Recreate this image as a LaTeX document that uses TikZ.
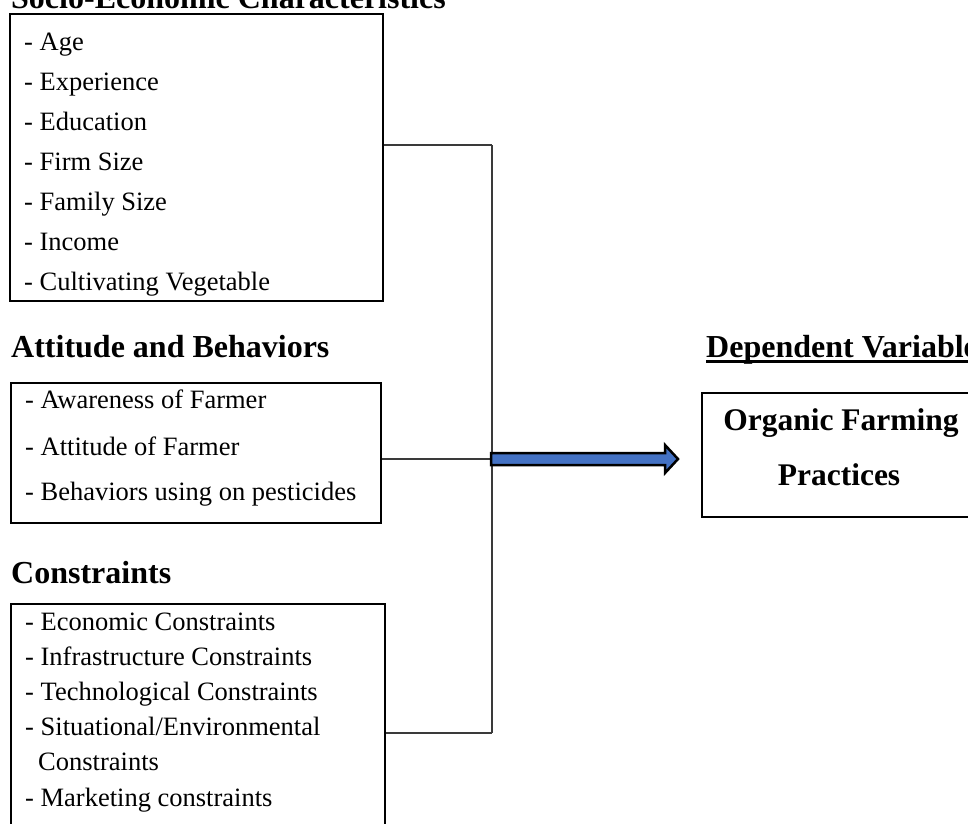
\documentclass[tikz,border=0pt]{standalone}
\usepackage{fontspec}
\setmainfont{Liberation Serif}
\usepackage{xcolor}
\usepackage{tikz}
\usetikzlibrary{calc}

\definecolor{arrowblue}{HTML}{4472C4}
\definecolor{linkgray}{HTML}{3A3A3A}

\begin{document}
\begin{tikzpicture}[x=1pt,y=-1pt,
  listbox/.style={draw,line width=2pt,inner sep=0pt},
  item/.style={anchor=base west,inner sep=0pt,font=\fontsize{26.5}{32}\selectfont},
  heading/.style={anchor=base west,inner sep=0pt,font=\bfseries\fontsize{32}{38}\selectfont},
  bigtext/.style={anchor=base,inner sep=0pt,font=\bfseries\fontsize{31.5}{38}\selectfont},
  link/.style={draw=linkgray,line width=1.3pt},
  fatarrow/.style={fill=arrowblue,draw=black,line width=2.5pt,line join=miter}]
\useasboundingbox (0,0) rectangle (968,823);
\clip (0,0) rectangle (968,823);
% --- socio-economic block ---
\node[heading] (socio) at (11,8) {Socio-Economic Characteristics};
\node[listbox,minimum width=373pt,minimum height=287pt] (socbox) at (196.5,157.5) {};
\node[item] (age) at (24,50) {- Age};
\node[item] (exper) at (24,90) {- Experience};
\node[item] (educ) at (24,130) {- Education};
\node[item] (firm) at (24,170) {- Firm Size};
\node[item] (family) at (24,210) {- Family Size};
\node[item] (income) at (24,250) {- Income};
\node[item] (vege) at (24,290) {- Cultivating Vegetable};
% --- attitude block ---
\node[heading] (attit) at (11,357) {Attitude and Behaviors};
\node[listbox,minimum width=370pt,minimum height=140pt] (attbox) at (196,453) {};
\node[item] (aware) at (25,408) {- Awareness of Farmer};
\node[item] (attfarm) at (25,455) {- Attitude of Farmer};
\node[item] (behav) at (25,500) {- Behaviors using on pesticides};
% --- constraints block ---
\node[heading] (constr) at (11,583) {Constraints};
\node[listbox,minimum width=374pt,minimum height=236pt] (conbox) at (198,722) {};
\node[item] (econ) at (25,630) {- Economic Constraints};
\node[item] (infra) at (25,665) {- Infrastructure Constraints};
\node[item] (techno) at (25,700) {- Technological Constraints};
\node[item] (situ) at (25,735) {- Situational/Environmental};
\node[item] (situb) at (38,770) {Constraints};
\node[item] (market) at (25,806) {- Marketing constraints};
% --- dependent variable ---
\node[heading] (dep) at (706,357) {Dependent Variable};
\draw[line width=2.5pt] ([yshift=-4.5pt]dep.base west) -- ([yshift=-4.5pt]dep.base east);
\node[listbox,minimum width=276pt,minimum height=124pt] (ofp) at (840,455) {};
\node[bigtext] (ofpa) at (841,430) {Organic Farming};
\node[bigtext] (ofpb) at (839,485) {Practices};
% --- links into the arrow ---
\coordinate (j1) at (492,145);
\coordinate (j2) at (492,459);
\coordinate (j3) at (492,733);
\draw[link] (j1 -| socbox.east) -- (j1);
\draw[link] (j2 -| attbox.east) -- (j2);
\draw[link] (j3 -| conbox.east) -- (j3);
\draw[link] (j1) -- (j3);
\filldraw[fatarrow] (j2) ++(-1,-6) -- ++(174,0) -- ++(0,-8) -- ++(13,14) -- ++(-13,14) -- ++(0,-8) -- ++(-174,0) -- cycle;
\end{tikzpicture}
\end{document}
